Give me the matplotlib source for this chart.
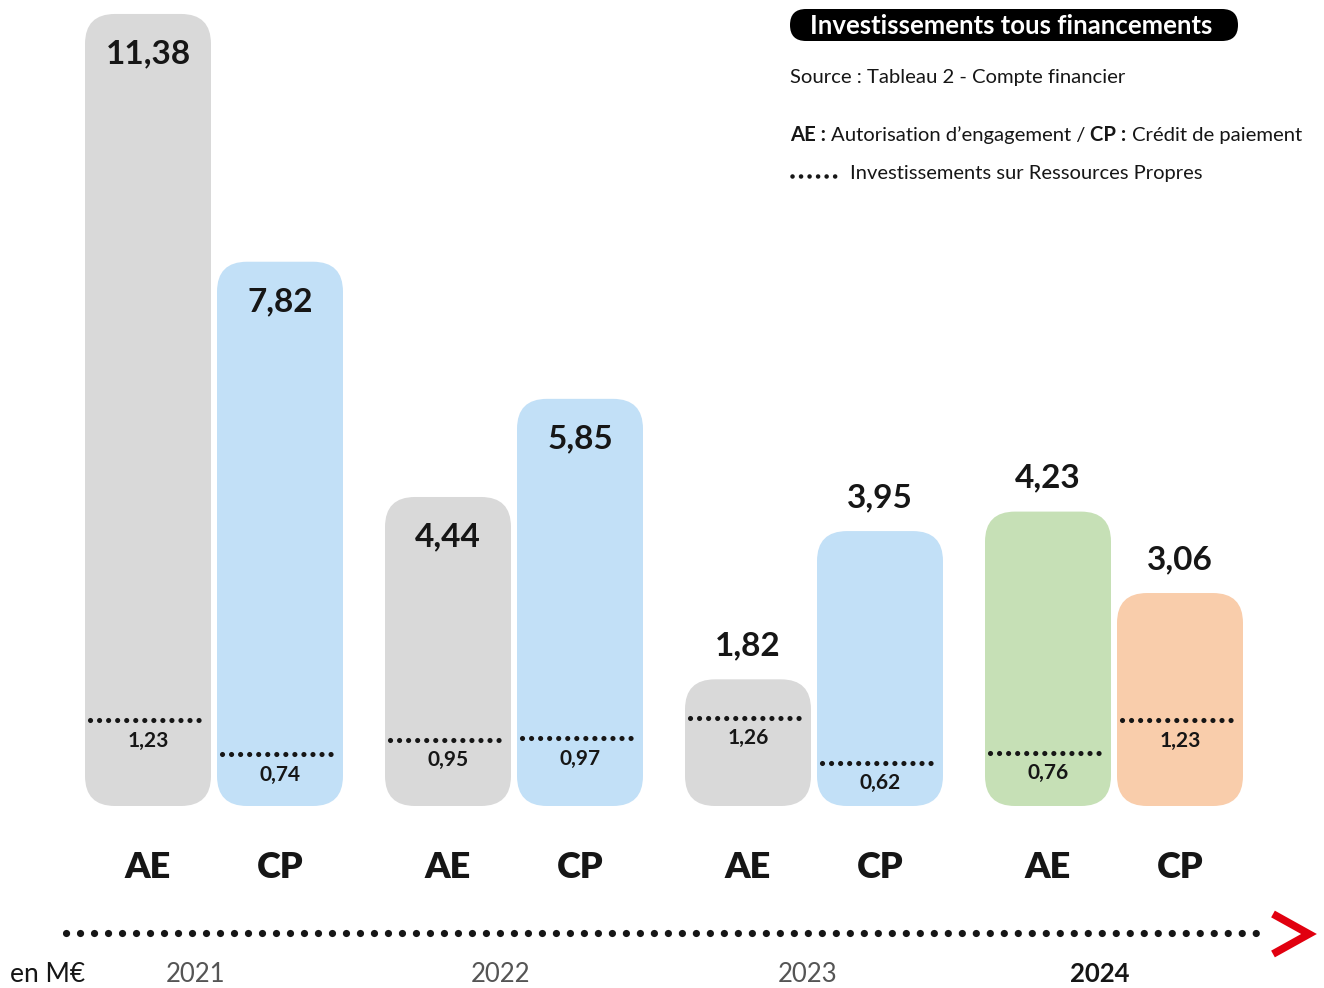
import matplotlib
matplotlib.use("Agg")
import matplotlib.pyplot as plt
from matplotlib.patches import FancyBboxPatch

# ---------------- data ----------------
years = ["2021", "2022", "2023", "2024"]
kinds = ["AE", "CP"]
totals_ae = [11.38, 4.44, 1.82, 4.23]
totals_cp = [7.82, 5.85, 3.95, 3.06]
own_ae = [1.23, 0.95, 1.26, 0.76]
own_cp = [0.74, 0.97, 0.62, 1.23]
fmt = lambda v: f"{v:.2f}".replace(".", ",")

# ---------------- style ----------------
W, H, DPI = 1324, 988, 100
FONT = ["Lato", "DejaVu Sans"]
plt.rcParams["font.family"] = FONT
col_ae = ["#d9d9d9", "#d9d9d9", "#d9d9d9", "#c6e0b6"]
col_cp = ["#c2e0f7", "#c2e0f7", "#c2e0f7", "#f9cdab"]
TXT = "#161616"
PX_PER_UNIT = 69.6
BASE_PX = 806
BAR_W = 126
RADIUS = 30
first_center = 148
group_step = 300
pair_step = 132
label_inside = [True, True, False, False]
year_x = [196, 501, 808, 1100]

fig = plt.figure(figsize=(W / DPI, H / DPI), dpi=DPI)
ax = fig.add_axes([0, 0, 1, 1])
ax.set_xlim(0, W)
ax.set_ylim(-(H - BASE_PX) / PX_PER_UNIT, BASE_PX / PX_PER_UNIT)
ax.axis("off")

ov = fig.add_axes([0, 0, 1, 1], zorder=5)
ov.set_xlim(0, W)
ov.set_ylim(H, 0)
ov.axis("off")
ov.patch.set_alpha(0)

for i, yr in enumerate(years):
    for j, kind in enumerate(kinds):
        total = (totals_ae if j == 0 else totals_cp)[i]
        own = (own_ae if j == 0 else own_cp)[i]
        color = (col_ae if j == 0 else col_cp)[i]
        cx = first_center + i * group_step + j * pair_step
        x0 = cx - BAR_W / 2
        ax.add_patch(FancyBboxPatch((x0, 0), BAR_W, total,
                                    boxstyle=f"round,pad=0,rounding_size={RADIUS}",
                                    mutation_aspect=1 / PX_PER_UNIT,
                                    fc=color, ec="none", zorder=1))
        # dotted own-resources line
        ax.plot([x0 + 5, x0 + BAR_W - 5], [own, own], color=TXT, lw=3.7,
                linestyle=(0, (0.01, 1.75)), dash_capstyle="round",
                solid_capstyle="round", zorder=3)
        ax.annotate(fmt(own), (cx, own), xytext=(0, -14.5), textcoords="offset points",
                    ha="center", va="center", fontsize=15, fontweight="bold",
                    color=TXT, zorder=4)
        # total label
        off = -29 if label_inside[i] else 24
        ax.annotate(fmt(total), (cx, total), xytext=(0, off), textcoords="offset points",
                    ha="center", va="center", fontsize=24, fontweight="bold",
                    color=TXT, zorder=4)
        # AE / CP label
        ax.annotate(kind, (cx, 0), xytext=(0, -44), textcoords="offset points",
                    ha="center", va="center", fontsize=26, fontweight="heavy",
                    color=TXT, zorder=4)

# bottom timeline
ov.plot([66, 1260], [933, 933], color=TXT, lw=5.2,
        linestyle=(0, (0.01, 1.928)), dash_capstyle="round")
ov.plot([1273, 1309, 1273], [914, 934, 954], color="#e1000f", lw=5.5,
        solid_joinstyle="miter", solid_capstyle="butt")
ov.text(10, 974, "en M€", ha="left", va="center", fontsize=19, color=TXT)
for k, yr in enumerate(years):
    last = k == len(years) - 1
    ov.text(year_x[k], 974, yr, ha="center", va="center", fontsize=18.5,
            color=TXT if last else "#555555",
            fontweight="bold" if last else "normal")

# legend block
ov.add_patch(FancyBboxPatch((790, 9), 448, 32,
                            boxstyle="round,pad=0,rounding_size=16",
                            fc="black", ec="none"))
ov.text(1011, 25.5, "Investissements tous financements", ha="center", va="center",
        fontsize=18.5, fontweight="bold", color="white")
ov.text(790, 78, "Source : Tableau 2 - Compte financier", ha="left", va="center",
        fontsize=14.6, color=TXT)

parts = [("AE : ", "bold"), ("Autorisation d’engagement / ", "normal"),
         ("CP : ", "bold"), ("Crédit de paiement", "normal")]
prev = None
for s, w in parts:
    if prev is None:
        prev = ov.text(790, 135, s, ha="left", va="center", fontsize=14.6,
                       fontweight=w, color=TXT)
    else:
        prev = ov.annotate(s, xy=(1, 0.5), xycoords=prev, ha="left", va="center",
                           fontsize=14.6, fontweight=w, color=TXT)

ov.plot([792, 842], [176, 176], color=TXT, lw=3.3,
        linestyle=(0, (0.01, 1.85)), dash_capstyle="round")
ov.text(850, 173, "Investissements sur Ressources Propres", ha="left", va="center",
        fontsize=14.5, color=TXT)

fig.savefig("out.png", dpi=DPI)
